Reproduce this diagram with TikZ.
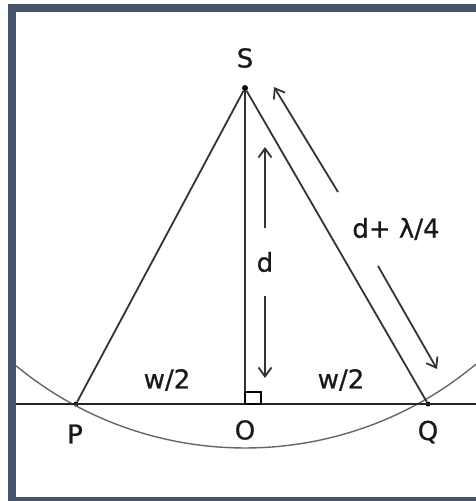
\documentclass[tikz,border=0pt]{standalone}
\usepackage{fontspec}
\setsansfont{DejaVu Sans}[UprightFeatures={FakeBold=0.7}]
\usetikzlibrary{arrows.meta}
\definecolor{framecol}{RGB}{70,85,107}

\begin{document}
\begin{tikzpicture}[x=1pt, y=-1pt,
  font=\sffamily\fontsize{26}{30}\selectfont,
  geo/.style={line width=1.8pt, draw=black!80},
  arr/.style={-{Straight Barb[length=9pt,width=13pt]}, line width=1.8pt, draw=black!80},
  dot/.style={circle, fill=black, inner sep=0pt, minimum size=6pt},
  lbl/.style={inner sep=0pt, text=black!90}
]
\useasboundingbox (0,0) rectangle (476,501);

% points
\node[dot] (S) at (245,88) {};
\node[dot, minimum size=5pt] (P) at (76,404) {};
\coordinate (O) at (245,404);
\node[dot, minimum size=5pt] (Q) at (428,404) {};
\coordinate (L) at (16,404);
\coordinate (R) at (476,404);

% circle round S
\draw[line width=1.4pt, draw=black!60] (S) ++(129.5:360) arc[start angle=129.5, end angle=50.1, radius=360];

% triangle and base
\draw[line width=2.6pt, draw=black!85] (L) -- (R);
\draw[geo] (P) -- (S) -- (Q);
\draw[geo] (S) -- (O);
\draw[line width=1.4pt] (O) rectangle ++(16,-12);

% labels
\node[lbl] (labS) at (245,58) {S};
\node[lbl] (labP) at (75,434) {P};
\node[lbl] (labO) at (245,430) {O};
\node[lbl] (labQ) at (428,432) {Q};
\node[lbl] (wl) at (167,380) {w/2};
\node[lbl] (wr) at (341,380) {w/2};

% d
\node[lbl, minimum height=67pt] (dlab) at (265,262) {d};
\coordinate (dtop) at (265,147);
\coordinate (dbot) at (265,378);
\draw[arr] (dlab.north) -- (dtop);
\draw[arr] (dlab.south) -- (dbot);

% d + lambda/4
\node[lbl] (dl) at (396,229) {d+ λ/4};
\coordinate (ua) at (338,192);
\coordinate (ub) at (274,87);
\coordinate (la) at (378,266);
\coordinate (lb) at (437,369);
\draw[arr] (ua) -- (ub);
\draw[arr] (la) -- (lb);

\draw[line width=8pt, draw=framecol] (12,8) rectangle (484,501);
\end{tikzpicture}
\end{document}
